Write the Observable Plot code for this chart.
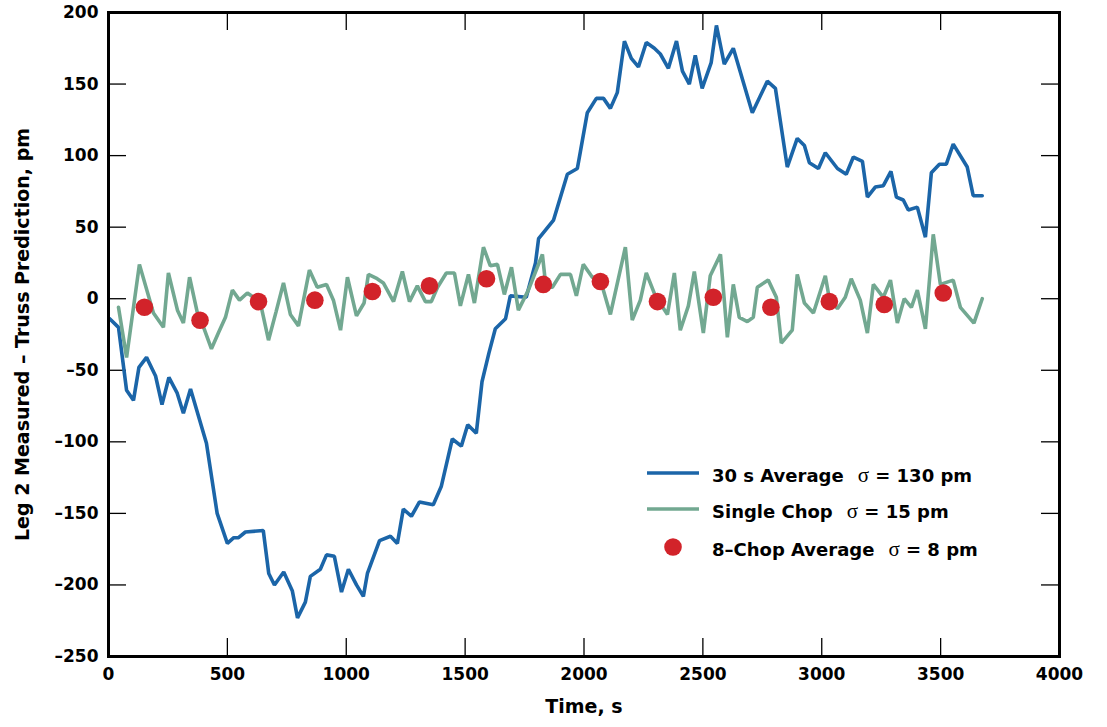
<!DOCTYPE html>
<html><head><meta charset="utf-8">
<script src="https://cdn.jsdelivr.net/npm/d3@7"></script>
<script src="https://cdn.jsdelivr.net/npm/@observablehq/plot@0.6"></script>
<style>
body{margin:0;background:#fff;}
#wrap{position:relative;width:1107px;height:727px;}
#legend{position:absolute;left:0;top:0;}
</style></head><body><div id="wrap"></div>
<script>
// ---- data ----
const xTicks = [0, 500, 1000, 1500, 2000, 2500, 3000, 3500, 4000];
const yTicks = [-250, -200, -150, -100, -50, 0, 50, 100, 150, 200];

const avgTime = [5, 42, 76, 105, 128, 160, 198, 225, 254, 289, 315, 345, 412, 457, 500, 527, 547, 576, 651, 674, 698, 737, 773, 795, 828, 849, 891, 917, 950, 980, 1009, 1043, 1072, 1089, 1140, 1186, 1215, 1240, 1274, 1308, 1366, 1400, 1446, 1484, 1511, 1547, 1571, 1600, 1627, 1670, 1690, 1757, 1796, 1809, 1872, 1930, 1972, 1985, 2014, 2052, 2082, 2111, 2140, 2170, 2199, 2229, 2262, 2296, 2321, 2355, 2389, 2414, 2443, 2468, 2497, 2535, 2557, 2590, 2628, 2708, 2771, 2805, 2855, 2897, 2927, 2948, 2986, 3015, 3066, 3103, 3133, 3171, 3192, 3225, 3259, 3291, 3314, 3343, 3364, 3402, 3436, 3461, 3495, 3524, 3553, 3612, 3637, 3675];
const avgValue = [-14, -20, -64, -71, -48, -41, -54, -74, -55, -66, -80, -63, -101, -150, -171, -167, -167, -163, -162, -192, -200, -191, -204, -223, -212, -194, -189, -179, -180, -205, -189, -200, -208, -192, -169, -166, -171, -147, -152, -142, -144, -131, -98, -103, -88, -94, -58, -38, -21, -14, 2, 1, 25, 42, 55, 87, 91, 103, 130, 140, 140, 133, 144, 180, 168, 162, 179, 175, 171, 161, 180, 159, 150, 170, 147, 165, 191, 164, 175, 130, 152, 147, 92, 112, 107, 95, 91, 102, 91, 87, 99, 96, 71, 78, 79, 89, 71, 69, 62, 64, 43, 88, 94, 94, 108, 92, 72, 72];

const chopTime = [42, 76, 130, 189, 231, 252, 290, 315, 341, 374, 400, 433, 462, 492, 521, 551, 584, 610, 639, 673, 705, 736, 765, 799, 845, 878, 917, 946, 976, 1005, 1043, 1075, 1093, 1130, 1156, 1199, 1236, 1266, 1299, 1333, 1358, 1384, 1421, 1455, 1480, 1514, 1539, 1577, 1606, 1636, 1665, 1695, 1724, 1766, 1825, 1840, 1867, 1901, 1943, 1968, 1997, 2035, 2069, 2111, 2174, 2203, 2237, 2262, 2300, 2351, 2380, 2405, 2439, 2464, 2502, 2531, 2574, 2603, 2628, 2653, 2687, 2712, 2729, 2775, 2809, 2830, 2876, 2897, 2927, 2965, 3015, 3032, 3066, 3099, 3124, 3162, 3192, 3217, 3259, 3289, 3318, 3347, 3377, 3402, 3436, 3469, 3499, 3553, 3583, 3640, 3675];
const chopValue = [-6, -41, 24, -10, -20, 18, -8, -17, 15, -10, -20, -35, -24, -13, 6, -1, 4, 1, -3, -29, -9, 11, -11, -19, 20, 8, 10, -1, -22, 15, -12, -3, 17, 14, 11, -2, 19, -2, 9, -2, -2, 8, 18, 18, -5, 17, -3, 36, 23, 24, 3, 22, -8, 6, 31, 8, 8, 17, 17, 2, 24, 15, 13, -11, 36, -15, -1, 18, 2, -11, 18, -22, -5, 19, -24, 16, 31, -27, 10, -13, -16, -13, 8, 13, 1, -31, -22, 17, -3, -10, 16, 0, -7, 1, 14, -1, -24, 10, 1, 13, -17, 0, -6, 6, -21, 45, 10, 13, -6, -17, 0];

const chop8Time = [151, 385, 631, 868, 1110, 1350, 1590, 1829, 2069, 2309, 2544, 2786, 3032, 3263, 3511];
const chop8Value = [-6, -15, -2, -1, 5, 9, 14, 10, 12, -2, 1, -6, -2, -4, 4];

const seriesNames = ["30 s Average", "Single Chop", "8\u2013Chop Average"];
const seriesSigma = ["130 pm", "15 pm", "8 pm"];
const xLabel = "Time, s";
const yLabel = "Leg 2 Measured \u2013 Truss Prediction, pm";

// ---- tables ----
const avg = avgTime.map((t, i) => ({t, v: avgValue[i]}));
const chop = chopTime.map((t, i) => ({t, v: chopValue[i]}));
const chop8 = chop8Time.map((t, i) => ({t, v: chop8Value[i]}));

const BLUE = "#1b65a8", GREEN = "#72a891", RED = "#d2232a";
const FONT = "DejaVu Sans, Liberation Sans, sans-serif";
const W = 1107, H = 727, mL = 108, mR = 48, mT = 12, mB = 71;
const plotH = H - mT - mB, plotW = W - mL - mR, TK = 18;

const chart = Plot.plot({
  width: W, height: H,
  marginLeft: mL, marginRight: mR, marginTop: mT, marginBottom: mB,
  style: {fontFamily: FONT, fontWeight: "bold", fontSize: "17px", background: "white", color: "black"},
  x: {domain: [0, 4000]},
  y: {domain: [-250, 200]},
  marks: [
    Plot.tickX(xTicks, {x: d => d, insetTop: plotH - TK, stroke: "black", strokeWidth: 1.3}),
    Plot.tickX(xTicks, {x: d => d, insetBottom: plotH - TK, stroke: "black", strokeWidth: 1.3}),
    Plot.tickY(yTicks, {y: d => d, insetRight: plotW - TK, stroke: "black", strokeWidth: 1.3}),
    Plot.tickY(yTicks, {y: d => d, insetLeft: plotW - TK, stroke: "black", strokeWidth: 1.3}),
    Plot.line(avg, {x: "t", y: "v", stroke: BLUE, strokeWidth: 3.6, strokeLinejoin: "miter"}),
    Plot.line(chop, {x: "t", y: "v", stroke: GREEN, strokeWidth: 3.6, strokeLinejoin: "miter"}),
    Plot.dot(chop8, {x: "t", y: "v", r: 8.8, fill: RED, stroke: "none"}),
    Plot.axisX({ticks: xTicks, tickSize: 0, tickPadding: 11, label: null, tickFormat: d => d3.format("d")(d)}),
    Plot.axisY({ticks: yTicks, tickSize: 0, tickPadding: 10, label: null, tickFormat: d => (d < 0 ? "\u2013" + Math.abs(d) : String(d))}),
    Plot.frame({stroke: "black", strokeWidth: 3}),
    Plot.text([yLabel], {text: d => d, frameAnchor: "left", textAnchor: "middle", rotate: -90, dx: -86, fontSize: 19, fontWeight: "bold"}),
    Plot.text([xLabel], {text: d => d, frameAnchor: "bottom", textAnchor: "middle", dy: 56, fontSize: 19, fontWeight: "bold"})
  ]
});
const wrap = document.getElementById("wrap");
wrap.appendChild(chart);

// ---- legend (overlay) ----
const leg = d3.select(wrap).append("svg").attr("id", "legend")
  .attr("width", W).attr("height", H)
  .style("font-family", FONT).style("font-weight", "bold").style("font-size", "18px");
const rows = [473, 509, 547];
const swatchX0 = 647, swatchX1 = 699, textX = 712;
leg.append("line").attr("x1", swatchX0).attr("x2", swatchX1).attr("y1", rows[0]).attr("y2", rows[0]).attr("stroke", BLUE).attr("stroke-width", 3.6);
leg.append("line").attr("x1", swatchX0).attr("x2", swatchX1).attr("y1", rows[1]).attr("y2", rows[1]).attr("stroke", GREEN).attr("stroke-width", 3.6);
leg.append("circle").attr("cx", (swatchX0 + swatchX1) / 2).attr("cy", rows[2]).attr("r", 8.8).attr("fill", RED);
seriesNames.forEach((name, i) => {
  const t = leg.append("text").attr("x", textX).attr("y", rows[i] + 9);
  t.append("tspan").text(name);
  t.append("tspan").attr("dx", 14).attr("font-family", "Liberation Serif, serif").attr("font-weight", "normal").attr("font-size", "21px").text("\u03c3");
  t.append("tspan").text(" = " + seriesSigma[i]);
});
</script></body></html>
